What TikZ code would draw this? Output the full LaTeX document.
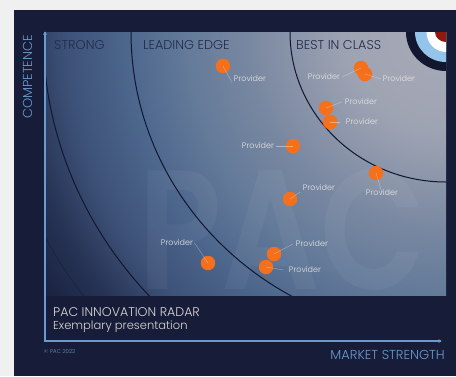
\documentclass[tikz,border=0pt]{standalone}
\usepackage{fontspec}
\setmainfont{Poppins}[UprightFont=* Light]
\newfontfamily\wmfont{Poppins}[FakeStretch=0.81,UprightFont=* SemiBold]
\definecolor{pagebg}{HTML}{F0F0F0}
\definecolor{panel}{HTML}{171C38}
\definecolor{axisblue}{HTML}{6A9BD0}
\definecolor{arcdark}{HTML}{12162E}
\definecolor{dotor}{HTML}{F4701C}
\definecolor{zonetxt}{HTML}{232B4C}
\definecolor{ringblue}{HTML}{94C4EA}
\definecolor{ringred}{HTML}{8E1A0E}
\pgfdeclareradialshading{radar}{\pgfpoint{0bp}{0bp}}{
 rgb(0bp)=(0.66,0.67,0.72);
 rgb(5bp)=(0.62,0.64,0.70);
 rgb(10bp)=(0.47,0.53,0.63);
 rgb(13bp)=(0.39,0.48,0.60);
 rgb(16bp)=(0.30,0.40,0.55);
 rgb(19bp)=(0.24,0.32,0.47);
 rgb(21.5bp)=(0.15,0.20,0.33);
 rgb(24bp)=(0.10,0.13,0.25);
 rgb(25bp)=(0.09,0.11,0.22);
 rgb(50bp)=(0.09,0.11,0.22)}
\tikzset{
 provdot/.style={circle,fill=dotor,draw=none,minimum size=14.5pt,inner sep=0pt},
 provlabel/.style={font=\fontsize{8}{9}\selectfont,text=white!90!black,inner sep=0pt},
 leader/.style={draw=white,opacity=0.4,line width=0.4pt},
 zone/.style={font=\fontsize{12.8}{14}\selectfont,text=zonetxt,anchor=west,inner sep=0pt},
 radararc/.style={draw=arcdark,line width=1pt},
 axisline/.style={draw=axisblue,line width=1.3pt},
 axislabel/.style={font=\fontsize{13}{15}\selectfont,text=axisblue,inner sep=0pt},
 titletxt/.style={text=white!85!black,anchor=west,inner sep=0pt}
}
\begin{document}
\begin{tikzpicture}[x=1pt,y=-1pt]
\useasboundingbox (0,0) rectangle (456,376);
\fill[pagebg] (0,0) rectangle (456,376);
\fill[panel] (14,10) rectangle (456,376);
\begin{scope}
 \clip (45,32) rectangle (446,295);
 \shade[shading=radar] (446,32) circle (500);
 \node[anchor=base west,inner sep=0pt,text=white,text opacity=0.045,font=\fontsize{170}{170}\wmfont] (wm) at (138,289) {PAC};
 \draw[radararc,line width=0.5pt,opacity=0.6] (446,32) ellipse (453 and 440);
 \draw[radararc] (446,32) ellipse (403 and 390);
 \draw[radararc] (446,32) ellipse (315 and 303);
 \draw[radararc] (446,32) ellipse (156 and 150);
 \fill[arcdark] (446,32) ellipse (40 and 39);
 \fill[ringblue] (446,32) ellipse (31 and 30);
 \fill[white] (446,32) ellipse (19.5 and 20);
 \fill[ringred] (446,32) ellipse (11 and 10);
\end{scope}
\coordinate (ytop) at (45,32);
\coordinate (origin) at (45,341);
\coordinate (xend) at (441,341);
\draw[axisline] (ytop) -- (origin) -- (xend);
\fill[axisblue] (ytop) ++(-2,2.5) -- ++(2,-3) -- ++(2,3) -- cycle;
\fill[axisblue] (xend) ++(-2.5,-2) -- ++(3,2) -- ++(-3,2) -- cycle;
\node[axislabel,rotate=90] (yl) at (27.5,77) {COMPETENCE};
\node[axislabel,anchor=east] (xl) at (445,355) {MARKET STRENGTH};
\node[zone] (z1) at (54,45) {STRONG};
\node[zone] (z2) at (143,45) {LEADING EDGE};
\node[zone] (z3) at (296,45) {BEST IN CLASS};
\node[titletxt,font=\fontsize{12.6}{14}\selectfont] (t1) at (53,312) {PAC INNOVATION RADAR};
\node[titletxt,font=\fontsize{11.5}{14}\selectfont] (t2) at (53,326.5) {Exemplary presentation};
\node[font=\fontsize{5.5}{6}\selectfont,text=axisblue,anchor=west,inner sep=0pt] (cr) at (44,352) {© PAC 2022};
% dots
\node[provdot] (d1) at (223,66) {};
\node[provdot] (d2) at (361,68) {};
\node[provdot] (d3) at (365,74) {};
\node[provdot] (d4) at (326,108) {};
\node[provdot] (d5) at (330,122) {};
\node[provdot] (d6) at (293,146) {};
\node[provdot] (d7) at (376,173) {};
\node[provdot] (d8) at (290,199) {};
\node[provdot] (d9) at (274,254) {};
\node[provdot] (d10) at (266,267) {};
\node[provdot] (d11) at (208,263) {};
% labels
\node[provlabel] (l1) at (250,79) {Provider};
\node[provlabel] (l2) at (324,77) {Provider};
\node[provlabel] (l3) at (399,79) {Provider};
\node[provlabel] (l4) at (361,102) {Provider};
\node[provlabel] (l5) at (362,122) {Provider};
\node[provlabel] (l6) at (258,146) {Provider};
\node[provlabel] (l7) at (382,193) {Provider};
\node[provlabel] (l8) at (319,188) {Provider};
\node[provlabel] (l9) at (312,244) {Provider};
\node[provlabel] (l10) at (305,270) {Provider};
\node[provlabel] (l11) at (177,243) {Provider};
% leaders
\draw[leader] (d1.center) -- ([xshift=-2pt]l1.south west);
\draw[leader] (d2.center) -- ([xshift=2pt]l2.east);
\draw[leader] (d3.center) -- ([xshift=-2pt]l3.west);
\draw[leader] (d4.center) -- ([xshift=-3pt]l4.west);
\draw[leader] (d5.center) -- ([xshift=-6pt]l5.west);
\draw[leader] (d6.center) -- ([xshift=2pt]l6.east);
\draw[leader] (d7.center) -- ([yshift=-3pt]l7.north);
\draw[leader] (d8.center) -- ([xshift=-3pt,yshift=-1pt]l8.south west);
\draw[leader] (d9.center) -- ([xshift=-3pt]l9.west);
\draw[leader] (d10.center) -- ([xshift=-5pt]l10.west);
\draw[leader] (d11.center) -- (196,245) -- ([xshift=1pt]l11.east);
\end{tikzpicture}
\end{document}
